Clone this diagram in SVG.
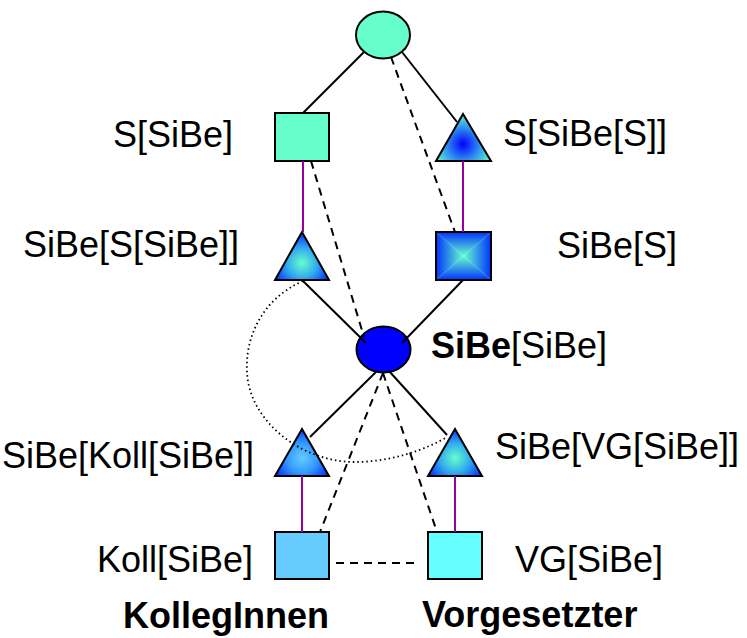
<svg xmlns="http://www.w3.org/2000/svg" width="747" height="638" viewBox="0 0 747 638">
<style>
.n{stroke:#000;stroke-width:2}
.t{font-family:"Liberation Sans",Arial,sans-serif;font-size:36px;fill:#000}
.b{font-weight:bold}
.s{stroke:#000;stroke-width:2;fill:none}
.d{stroke:#000;stroke-width:2;fill:none;stroke-dasharray:8 6}
.p{stroke:#990099;stroke-width:2;fill:none}
.o{stroke:#000;stroke-width:1.8;fill:none;stroke-dasharray:1.5 3}
</style>
<defs>
<radialGradient id="gBlueC" cx="463" cy="144" r="32" gradientUnits="userSpaceOnUse">
<stop offset="0" stop-color="#0000ff"/><stop offset="0.55" stop-color="#3399ee"/><stop offset="1" stop-color="#66ffcc"/>
</radialGradient>
<radialGradient id="gAquaC1" cx="302" cy="263" r="30" gradientUnits="userSpaceOnUse">
<stop offset="0" stop-color="#66ffcc"/><stop offset="0.5" stop-color="#33aaee"/><stop offset="1" stop-color="#0033ff"/>
</radialGradient>
<radialGradient id="gLight" cx="302" cy="458" r="30" gradientUnits="userSpaceOnUse">
<stop offset="0" stop-color="#66ccff"/><stop offset="0.5" stop-color="#3399ff"/><stop offset="1" stop-color="#0033ff"/>
</radialGradient>
<radialGradient id="gAquaC2" cx="455" cy="458" r="30" gradientUnits="userSpaceOnUse">
<stop offset="0" stop-color="#66ffcc"/><stop offset="0.5" stop-color="#33aaee"/><stop offset="1" stop-color="#0033ff"/>
</radialGradient>
<linearGradient id="sqT" x1="0" y1="232" x2="0" y2="256" gradientUnits="userSpaceOnUse"><stop offset="0" stop-color="#0033ff"/><stop offset="1" stop-color="#66ffcc"/></linearGradient>
<linearGradient id="sqB" x1="0" y1="280" x2="0" y2="256" gradientUnits="userSpaceOnUse"><stop offset="0" stop-color="#0033ff"/><stop offset="1" stop-color="#66ffcc"/></linearGradient>
<linearGradient id="sqL" x1="436" y1="0" x2="463.5" y2="0" gradientUnits="userSpaceOnUse"><stop offset="0" stop-color="#0033ff"/><stop offset="1" stop-color="#66ffcc"/></linearGradient>
<linearGradient id="sqR" x1="491" y1="0" x2="463.5" y2="0" gradientUnits="userSpaceOnUse"><stop offset="0" stop-color="#0033ff"/><stop offset="1" stop-color="#66ffcc"/></linearGradient>
</defs>

<g id="nodes">
<g id="n-top"><ellipse class="n" cx="383" cy="35" rx="27" ry="23.5" fill="#66ffcc"/></g>
<g id="n-s-sibe"><rect class="n" x="275" y="113" width="54" height="48" fill="#66ffcc"/></g>
<g id="n-s-sibe-s"><polygon class="n" points="463,114 436,161 491,161" fill="url(#gBlueC)"/></g>
<g id="n-sibe-s-sibe"><polygon class="n" points="302,232 275,280 329,280" fill="url(#gAquaC1)"/></g>
<g id="n-sibe-s">
<polygon points="436,232 491,232 463.5,256" fill="url(#sqT)"/>
<polygon points="436,280 491,280 463.5,256" fill="url(#sqB)"/>
<polygon points="436,232 436,280 463.5,256" fill="url(#sqL)"/>
<polygon points="491,232 491,280 463.5,256" fill="url(#sqR)"/>
<rect class="n" x="436" y="232" width="55" height="48" fill="none"/>
</g>
<g id="n-sibe"><ellipse class="n" cx="383.5" cy="349.5" rx="27" ry="23" fill="#0000ff"/></g>
<g id="n-sibe-koll"><polygon class="n" points="302,429 275,476 329,476" fill="url(#gLight)"/></g>
<g id="n-sibe-vg"><polygon class="n" points="455,429 428,476 482,476" fill="url(#gAquaC2)"/></g>
<g id="n-koll"><rect class="n" x="275" y="532" width="54" height="47" fill="#66ccff"/></g>
<g id="n-vg"><rect class="n" x="428" y="532" width="54" height="47" fill="#66ffff"/></g>
</g>

<g id="connectors">
<line class="s" x1="364" y1="52" x2="303" y2="113"/>
<line class="s" x1="402" y1="52" x2="457" y2="122"/>
<line class="d" x1="391" y1="57" x2="455" y2="232"/>
<line class="d" x1="311" y1="161" x2="364" y2="337"/>
<line class="p" x1="303" y1="161" x2="303" y2="232"/>
<line class="p" x1="463" y1="161" x2="463" y2="232"/>
<line class="s" x1="302" y1="280" x2="366" y2="343"/>
<line class="s" x1="463" y1="280" x2="402" y2="343"/>
<line class="s" x1="376" y1="372" x2="310" y2="437"/>
<line class="s" x1="389" y1="371" x2="447" y2="435"/>
<line class="d" x1="383" y1="373" x2="320" y2="532"/>
<line class="d" x1="383" y1="373" x2="437" y2="532"/>
<line class="p" x1="302" y1="476" x2="302" y2="532"/>
<line class="p" x1="455" y1="476" x2="455" y2="532"/>
<line class="d" x1="336" y1="563" x2="414" y2="563"/>
<path class="o" d="M303,281 C260,300 245,340 247,372 C249,420 300,462 355,462 C390,462 425,450 447,437"/>
</g>

<g id="labels">
<text class="t" x="113" y="147">S[SiBe]</text>
<text class="t" x="503" y="146">S[SiBe[S]]</text>
<text class="t" x="23" y="257">SiBe[S[SiBe]]</text>
<text class="t" x="557" y="258">SiBe[S]</text>
<text class="t" x="431" y="358"><tspan class="b">SiBe</tspan>[SiBe]</text>
<text class="t" x="2" y="468">SiBe[Koll[SiBe]]</text>
<text class="t" x="495" y="459">SiBe[VG[SiBe]]</text>
<text class="t" x="97" y="572">Koll[SiBe]</text>
<text class="t" x="515" y="572">VG[SiBe]</text>
<text class="t b" x="123" y="628">KollegInnen</text>
<text class="t b" x="422" y="627">Vorgesetzter</text>
</g>
</svg>
